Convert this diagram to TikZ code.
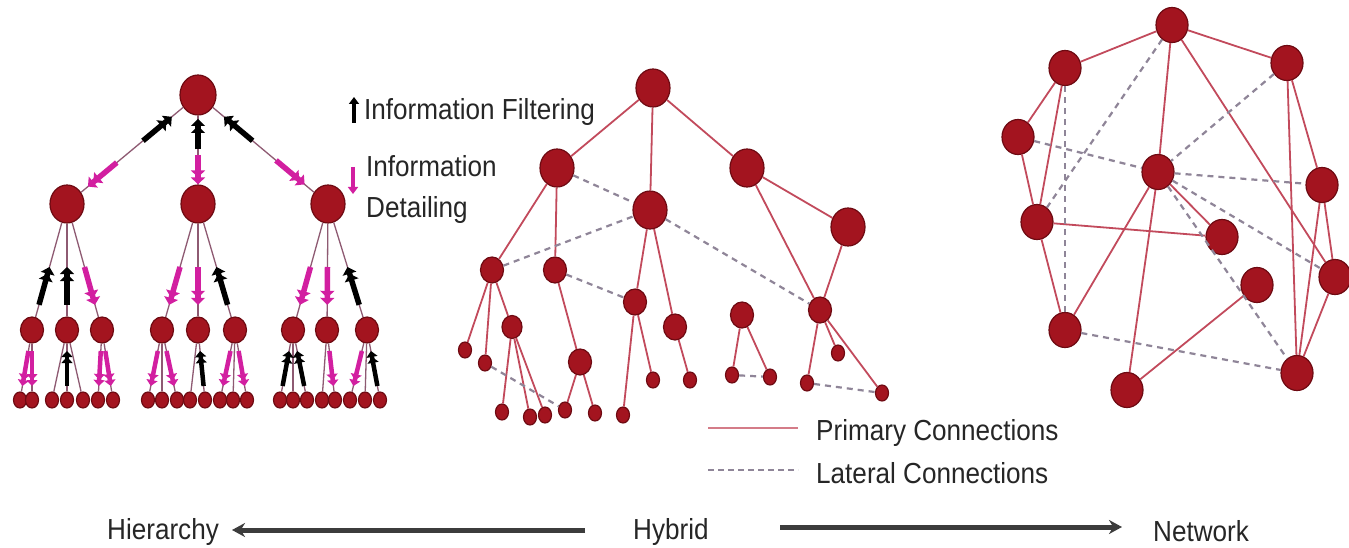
\documentclass[tikz,border=0pt]{standalone}
\usepackage{fontspec}
\setmainfont{Liberation Sans}[FakeStretch=0.9]
\usetikzlibrary{shapes.geometric,arrows.meta,calc}
\definecolor{nodered}{HTML}{A3141F}
\definecolor{nodeedge}{HTML}{6E0A12}
\definecolor{treeline}{HTML}{8E5A72}
\definecolor{primary}{HTML}{C24A5C}
\definecolor{primarylight}{HTML}{D47C88}
\definecolor{lateral}{HTML}{8F8598}
\definecolor{detail}{HTML}{D21FA0}
\definecolor{axisgray}{HTML}{3C3C3C}
\definecolor{labeltext}{HTML}{262626}

\newcommand\flowmark[5]{\draw[#1] ($(#2)!#4!(#3)$) -- ($(#2)!#5!(#3)$);}

\tikzset{
  nd/.style={ellipse, fill=nodered, draw=nodeedge, line width=1.2pt, inner sep=0pt},
  bignd/.style={nd, minimum width=34pt, minimum height=38pt},
  rootnd/.style={nd, minimum width=36pt, minimum height=40pt},
  midnd/.style={nd, minimum width=23pt, minimum height=26pt},
  smallnd/.style={nd, minimum width=20pt, minimum height=23pt},
  leafnd/.style={nd, minimum width=13pt, minimum height=16pt},
  netnd/.style={nd, minimum width=32pt, minimum height=35pt},
  treeedge/.style={draw=treeline, line width=1.3pt},
  prim/.style={draw=primary, line width=1.8pt},
  lat/.style={draw=lateral, line width=2.2pt, dash pattern=on 6pt off 5pt},
  upflow/.style={black, line width=5.5pt, -{Triangle[length=7pt,width=14pt] Triangle[length=7pt,width=14pt]}},
  downflow/.style={detail, line width=5.5pt, -{Triangle[length=7pt,width=14pt] Triangle[length=7pt,width=14pt]}},
  upsmall/.style={black, line width=4.5pt, -{Triangle[length=6pt,width=11pt] Triangle[length=6pt,width=11pt]}},
  downsmall/.style={detail, line width=4.5pt, -{Triangle[length=6pt,width=11pt] Triangle[length=6pt,width=11pt]}},
  lbl/.style={font=\fontsize{29}{34}\selectfont, text=labeltext, inner sep=0pt},
  axisarrow/.style={draw=axisgray, line width=5pt, -{Stealth[length=13pt,width=14pt]}}
}

\begin{document}
\begin{tikzpicture}[x=1pt,y=-1pt]
\fill[white] (0,0) rectangle (1349,548);
\useasboundingbox (0,0) rectangle (1349,548);

% ---------------- Hierarchy ----------------
\node[rootnd] (r0) at (198,95) {};
\node[bignd] (m1) at (67,204) {};
\node[bignd] (m2) at (198,204) {};
\node[bignd] (m3) at (328,204) {};
\foreach \n/\x in {t1/32,t2/67,t3/102,t4/162,t5/198,t6/235,t7/293,t8/327,t9/367}
  \node[midnd] (\n) at (\x,330) {};
\foreach \n/\x in {l1/20,l2/32,l3/52,l4/67,l5/83,l6/98,l7/113,
                   l8/148,l9/162,l10/177,l11/190,l12/205,l13/220,l14/233,l15/247,
                   l16/280,l17/293,l18/307,l19/322,l20/335,l21/350,l22/365,l23/380}
  \node[leafnd] (\n) at (\x,400) {};

\foreach \a/\b in {r0/m1,r0/m2,r0/m3,
                   m1/t1,m1/t2,m1/t3,m2/t4,m2/t5,m2/t6,m3/t7,m3/t8,m3/t9,
                   t1/l1,t1/l2,t2/l3,t2/l4,t2/l5,t3/l6,t3/l7,
                   t4/l8,t4/l9,t4/l10,t5/l11,t5/l12,t6/l13,t6/l14,t6/l15,
                   t7/l16,t7/l17,t7/l18,t8/l19,t8/l20,t9/l21,t9/l22,t9/l23}
  \draw[treeedge] (\a) -- (\b);

% filtering (up) and detailing (down) flows
\flowmark{upflow}{r0}{m1}{0.42}{0.2}
\flowmark{downflow}{r0}{m1}{0.62}{0.84}
\flowmark{upflow}{r0}{m2}{0.5}{0.22}
\flowmark{downflow}{r0}{m2}{0.55}{0.82}
\flowmark{upflow}{r0}{m3}{0.42}{0.2}
\flowmark{downflow}{r0}{m3}{0.6}{0.82}

\flowmark{upflow}{m1}{t1}{0.8}{0.5}
\flowmark{upflow}{m1}{t2}{0.8}{0.5}
\flowmark{downflow}{m1}{t3}{0.5}{0.8}
\flowmark{downflow}{m2}{t4}{0.5}{0.8}
\flowmark{downflow}{m2}{t5}{0.5}{0.8}
\flowmark{upflow}{m2}{t6}{0.8}{0.5}
\flowmark{downflow}{m3}{t7}{0.5}{0.8}
\flowmark{downflow}{m3}{t8}{0.5}{0.8}
\flowmark{upflow}{m3}{t9}{0.8}{0.5}

\flowmark{downsmall}{t1}{l1}{0.3}{0.8}
\flowmark{downsmall}{t1}{l2}{0.3}{0.8}
\flowmark{upsmall}{t2}{l4}{0.8}{0.3}
\flowmark{downsmall}{t3}{l6}{0.3}{0.8}
\flowmark{downsmall}{t3}{l7}{0.3}{0.8}
\flowmark{downsmall}{t4}{l8}{0.3}{0.8}
\flowmark{downsmall}{t4}{l10}{0.3}{0.8}
\flowmark{upsmall}{t5}{l12}{0.8}{0.3}
\flowmark{downsmall}{t6}{l13}{0.3}{0.8}
\flowmark{downsmall}{t6}{l15}{0.3}{0.8}
\flowmark{upsmall}{t7}{l16}{0.8}{0.3}
\flowmark{upsmall}{t7}{l18}{0.8}{0.3}
\flowmark{downsmall}{t8}{l20}{0.3}{0.8}
\flowmark{downsmall}{t9}{l21}{0.3}{0.8}
\flowmark{upsmall}{t9}{l23}{0.8}{0.3}

% flow legend
\node[lbl, anchor=base west] (filt) at (364,120) {Information Filtering};
\node[lbl, anchor=base west] (det1) at (366,177) {Information};
\node[lbl, anchor=base west] (det2) at (366,218) {Detailing};
\coordinate (fu1) at (354,123);
\coordinate (fu2) at (354,97);
\coordinate (fd1) at (353,167);
\coordinate (fd2) at (353,194);
\draw[black, line width=4.5pt, -{Triangle[length=7pt,width=10pt]}] (fu1) -- (fu2);
\draw[detail, line width=4.5pt, -{Triangle[length=7pt,width=10pt]}] (fd1) -- (fd2);

% ---------------- Hybrid ----------------
\node[bignd] (hr) at (653,88) {};
\node[bignd] (hA) at (557,168) {};
\node[bignd] (hB) at (650,210) {};
\node[bignd] (hC) at (747,168) {};
\node[bignd] (hD) at (848,227) {};
\node[midnd] (hE) at (492,270) {};
\node[midnd] (hF) at (555,270) {};
\node[midnd] (hG) at (635,302) {};
\node[midnd] (hH) at (675,327) {};
\node[midnd] (hI) at (742,315) {};
\node[midnd] (hJ) at (820,310) {};
\node[smallnd] (hK) at (512,327) {};
\node[midnd] (hL) at (580,362) {};
\foreach \n/\x/\y in {h1/465/350,h2/485/363,h3/502/412,h4/530/417,h5/545/415,
                      h6/565/410,h7/595/413,h8/623/415,h9/653/380,h10/690/380,
                      h11/732/375,h12/770/377,h13/838/353,h14/807/383,h15/882/393}
  \node[leafnd] (\n) at (\x,\y) {};

\foreach \a/\b in {hr/hA,hr/hB,hr/hC,hA/hE,hA/hF,hB/hG,hB/hH,hC/hJ,hC/hD,hD/hJ,
                   hE/h1,hE/h2,hE/hK,hK/h3,hK/h4,hK/h5,hF/hL,hL/h6,hL/h7,
                   hG/h8,hG/h9,hH/h10,hI/h11,hI/h12,hJ/h14,hJ/h13,hJ/h15}
  \draw[prim] (\a) -- (\b);
\foreach \a/\b in {hA/hB,hB/hJ,hE/hB,hF/hG,h2/h6,h11/h12,h14/h15}
  \draw[lat] (\a) -- (\b);

% connection legend
\node[lbl, anchor=base west] (primtxt) at (816,440) {Primary Connections};
\node[lbl, anchor=base west] (lattxt) at (816,483) {Lateral Connections};
\coordinate (pl1) at (708,428);
\coordinate (pl2) at (798,428);
\coordinate (ll1) at (708,470);
\coordinate (ll2) at (798,470);
\draw[draw=primarylight, line width=2.5pt] (pl1) -- (pl2);
\draw[draw=lateral, line width=2.2pt, dash pattern=on 6pt off 4pt] (ll1) -- (ll2);

% ---------------- Network ----------------
\foreach \n/\x/\y in {n1/1172/25,n2/1065/68,n3/1287/63,n4/1018/137,n5/1158/172,
                      n6/1322/185,n7/1037/222,n8/1222/237,n9/1335/277,n10/1257/285,
                      n11/1065/330,n12/1297/373,n13/1127/390}
  \node[netnd] (\n) at (\x,\y) {};
\foreach \a/\b in {n1/n2,n1/n3,n1/n5,n1/n9,n2/n4,n2/n7,n3/n12,n3/n6,n4/n7,
                   n5/n11,n5/n13,n5/n8,n7/n8,n7/n11,n6/n12,n6/n9,n9/n12,n10/n13}
  \draw[prim] (\a) -- (\b);
\foreach \a/\b in {n1/n7,n2/n11,n3/n5,n4/n5,n5/n6,n5/n9,n5/n12,n11/n12}
  \draw[lat] (\a) -- (\b);

% ---------------- Spectrum axis ----------------
\node[lbl, anchor=base west] (hier) at (107,539) {Hierarchy};
\node[lbl, anchor=base west] (hyb) at (633,539) {Hybrid};
\node[lbl, anchor=base west] (net) at (1153,541) {Network};
\coordinate (axl1) at (585,530);
\coordinate (axl2) at (232,530);
\coordinate (axr1) at (780,527);
\coordinate (axr2) at (1122,527);
\draw[axisarrow] (axl1) -- (axl2);
\draw[axisarrow] (axr1) -- (axr2);
\end{tikzpicture}
\end{document}
